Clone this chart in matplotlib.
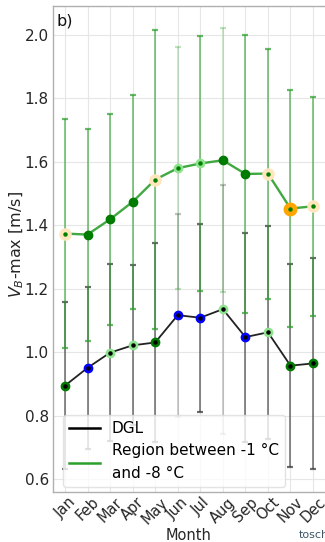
import matplotlib
matplotlib.use("Agg")
import matplotlib.pyplot as plt
import numpy as np

months = ["Jan", "Feb", "Mar", "Apr", "May", "Jun", "Jul", "Aug", "Sep", "Oct", "Nov", "Dec"]

# Region between -1 °C and -8 °C (green)
region_mean = [1.374, 1.371, 1.419, 1.474, 1.544, 1.580, 1.595, 1.605, 1.562, 1.563, 1.453, 1.460]
region_top = [1.735, 1.705, 1.751, 1.811, 2.014, 1.961, 1.997, 2.021, 2.001, 1.957, 1.825, 1.805]
region_kind = ["wheat", "dg", "dg", "dg", "wheat", "lg", "lg", "dg", "dg", "wheat", "orange", "wheat"]

# DGL (black)
dgl_mean = [0.895, 0.951, 0.999, 1.022, 1.031, 1.117, 1.109, 1.136, 1.048, 1.063, 0.958, 0.965]
dgl_top = [1.159, 1.205, 1.278, 1.274, 1.344, 1.437, 1.405, 1.528, 1.377, 1.399, 1.277, 1.298]
dgl_kind = ["dg", "blue", "lg", "lg", "dg", "blue", "blue", "lg", "blue", "lg", "dg", "dg"]

# bar emphasis per month
bar_light = [False, False, False, False, False, True, False, True, False, False, False, False]

kind_style = {
    "dg": dict(color="#007a00", size=6.0),
    "lg": dict(color="#8ee38e", size=6.0),
    "blue": dict(color="#0000ff", size=6.0),
    "wheat": dict(color="#ffe6bd", size=8.0),
    "orange": dict(color="#ffa500", size=9.0),
}

fig = plt.figure(figsize=(3.25, 5.42), dpi=100)
ax = fig.add_axes([53 / 325, 1 - 492 / 542, 272 / 325, 486 / 542])

x = np.arange(1, 13)

def draw_series(mean, top, bar_color, zbase):
    mean = np.array(mean)
    err = np.array(top) - mean
    for i in range(12):
        a = 0.3 if bar_light[i] else 0.72
        ax.errorbar(x[i], mean[i], yerr=err[i], fmt="none", ecolor=bar_color,
                    elinewidth=1.1, capsize=2.5, capthick=1.6, alpha=a, zorder=zbase)
    return mean

rm = draw_series(region_mean, region_top, "#2ca02c", 2)
dm = draw_series(dgl_mean, dgl_top, "#333333", 1)

ax.plot(x, dm, color="#222222", lw=1.3, zorder=4)
ax.plot(x, rm, color="#1f9a1f", lw=1.7, alpha=0.85, zorder=4)

for i in range(12):
    st = kind_style[dgl_kind[i]]
    ax.plot(x[i], dm[i], "o", ms=st["size"], color=st["color"], mec=st["color"], zorder=5)
    st = kind_style[region_kind[i]]
    ax.plot(x[i], rm[i], "o", ms=st["size"], color=st["color"], mec=st["color"], zorder=5)

ax.plot(x, dm, "o", ms=2.2, color="black", lw=0, zorder=6)
ax.plot(x, rm, "o", ms=2.2, color="#008000", lw=0, zorder=6)

# legend proxies
ax.plot([], [], color="black", lw=1.8, label="DGL")
ax.plot([], [], color="#2ca02c", lw=1.8, label="Region between -1 °C\nand -8 °C")

ax.set_xlim(0.47, 12.53)
ax.set_ylim(0.560, 2.091)
ax.set_xticks(x)
ax.set_xticklabels(months, rotation=45, ha="center")
yt = np.arange(0.6, 2.01, 0.2)
ax.set_yticks(yt)
ax.set_yticklabels([f"{v:.1f}" for v in yt])

ax.grid(True, color="#e6e6e6", lw=0.8, zorder=0)
ax.set_axisbelow(True)
ax.tick_params(axis="y", length=0, labelsize=11, colors="#262626", pad=3)
ax.tick_params(axis="x", length=0, labelsize=10.5, colors="#262626", pad=2)
for s in ["left", "bottom", "top"]:
    ax.spines[s].set_color("#b0b0b0")
    ax.spines[s].set_linewidth(1.0)
ax.spines["right"].set_visible(False)

ax.set_ylabel("$V_B$-max [m/s]", fontsize=11.5, color="#262626")
ax.yaxis.set_label_coords(-0.10, 0.51)
ax.set_xlabel("Month", fontsize=10.5, color="#262626", labelpad=1)
ax.text(0.012, 0.985, "b)", transform=ax.transAxes, fontsize=11.5, va="top", ha="left", color="#111111")

leg = ax.legend(loc="lower left", fontsize=11, frameon=True, framealpha=0.8,
                edgecolor="#dddddd", handlelength=2.0, borderaxespad=0.3,
                labelspacing=0.45, bbox_to_anchor=(0.02, 0.0))
for t in leg.get_texts():
    t.set_linespacing(1.7)

fig.text(299 / 325, 1 - 540 / 542, "tosch", fontsize=8, color="#3d5566", ha="left", va="bottom")

fig.savefig("out.png", dpi=100)
